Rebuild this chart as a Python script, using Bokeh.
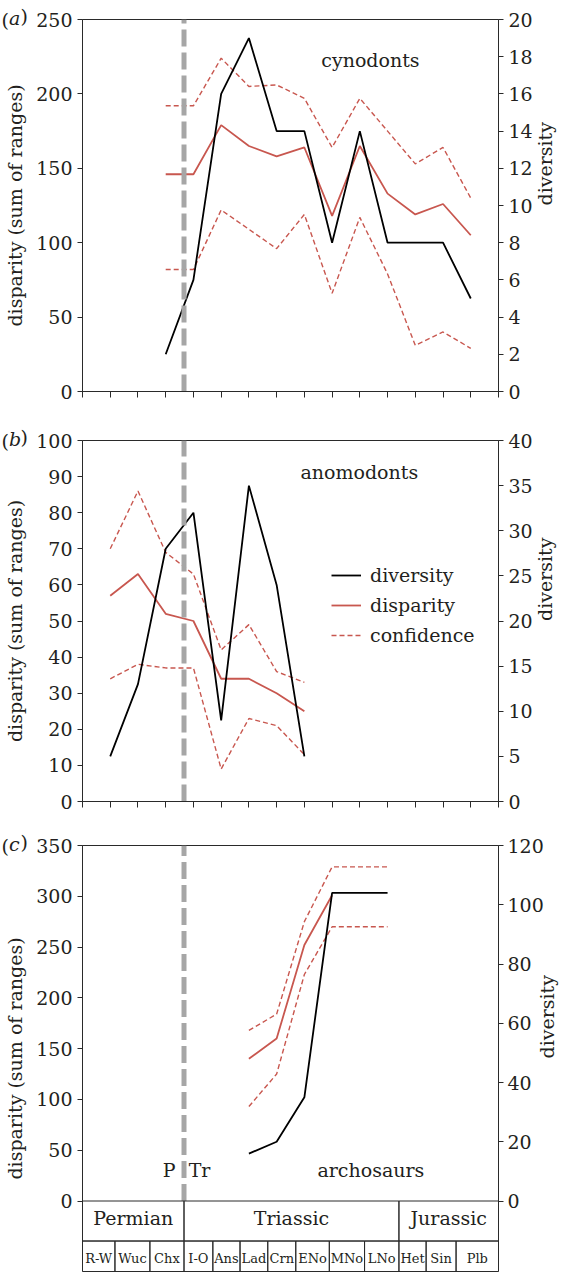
import math
from bokeh.plotting import figure
from bokeh.models import Range1d, LinearAxis, FixedTicker, Label, Legend, LegendItem, Title
from bokeh.layouts import column
from bokeh.embed import file_html
from bokeh.resources import INLINE
from bokeh.core.properties import value

# ---------------- data ----------------
# (a) cynodonts
x_a = [3, 4, 5, 6, 7, 8, 9, 10, 11, 12, 13, 14]
div_a = [2, 6, 16, 19, 14, 14, 8, 14, 8, 8, 8, 5]
disp_a = [146, 146, 179, 165, 158, 164, 118, 165, 133, 119, 126, 105]
upper_a = [192, 192, 224, 205, 206, 197, 164, 197, 175, 153, 164, 130]
lower_a = [82, 82, 122, 109, 96, 119, 66, 117, 79, 31, 40, 29]

# (b) anomodonts
x_b = [1, 2, 3, 4, 5, 6, 7, 8]
div_b = [5, 13, 28, 32, 9, 35, 24, 5]
disp_b = [57, 63, 52, 50, 34, 34, 30, 25]
upper_b = [70, 86, 69, 63, 42, 49, 36, 33]
lower_b = [34, 38, 37, 37, 9, 23, 21, 13]

# (c) archosaurs
x_c = [6, 7, 8, 9, 10, 11]
div_c = [16, 20, 35, 104, 104, 104]
x_c_disp = [6, 7, 8, 9]
disp_c = [140, 160, 252, 301]
upper_c = [168, 184, 275, 329, 329, 329]
lower_c = [93, 125, 223, 270, 270, 270]

# axes
ticks_a_left = [0, 50, 100, 150, 200, 250]
ticks_a_right = [0, 2, 4, 6, 8, 10, 12, 14, 16, 18, 20]
ticks_b_left = [0, 10, 20, 30, 40, 50, 60, 70, 80, 90, 100]
ticks_b_right = [0, 5, 10, 15, 20, 25, 30, 35, 40]
ticks_c_left = [0, 50, 100, 150, 200, 250, 300, 350]
ticks_c_right = [0, 20, 40, 60, 80, 100, 120]
x_ticks = list(range(16))

# time scale
periods = ["Permian", "Triassic", "Jurassic"]
period_edges = [0, 3.66, 11.41, 15]
stages = ["R-W", "Wuc", "Chx", "I-O", "Ans", "Lad", "Crn", "ENo", "MNo", "LNo", "Het", "Sin", "Plb"]
stage_edges = [0, 1.17, 2.43, 3.66, 4.70, 5.68, 6.68, 7.69, 8.90, 10.17, 11.41, 12.39, 13.47, 15]
pt_boundary = 3.66

# ---------------- style ----------------
FONT = "DejaVu Serif"
FS = "19px"
RED = "#c8574f"
GRAY = "#a6a6a6"
INK = "#2a2a2a"
TXT = "#231f20"
LEFT_B = 82
FRAME_W = 416


def style_axis(ax, ticks, label=None, standoff=5, lstandoff=4):
    ax.ticker = FixedTicker(ticks=ticks)
    ax.major_tick_in = 0
    ax.major_tick_out = 5
    ax.minor_tick_in = 0
    ax.minor_tick_out = 0
    ax.axis_line_color = INK
    ax.major_tick_line_color = INK
    ax.major_label_text_font = FONT
    ax.major_label_text_font_size = FS
    ax.major_label_text_color = TXT
    ax.major_label_standoff = standoff
    if label:
        ax.axis_label = label
        ax.axis_label_text_font = FONT
        ax.axis_label_text_font_size = FS
        ax.axis_label_text_font_style = "normal"
        ax.axis_label_text_color = TXT
        ax.axis_label_standoff = lstandoff


def make_panel(frame_h, top_b, bot_b, y0, y1, r0, r1, lt, rt, show_x, r_standoff, r_lstandoff):
    p = figure(frame_width=FRAME_W, frame_height=frame_h,
               min_border_left=LEFT_B, min_border_right=68,
               min_border_top=top_b, min_border_bottom=bot_b,
               x_range=Range1d(0, 15), y_range=Range1d(y0, y1),
               x_axis_location="below" if show_x else None,
               output_backend="svg", toolbar_location=None)
    p.grid.visible = False
    p.outline_line_color = INK
    p.outline_line_width = 1
    p.background_fill_color = "white"
    p.border_fill_color = "white"
    style_axis(p.yaxis[0], lt, "disparity (sum of ranges)", lstandoff=7)
    p.yaxis[0].bounds = (0, y1)
    p.extra_y_ranges = {"div": Range1d(r0, r1)}
    rax = LinearAxis(y_range_name="div")
    style_axis(rax, rt, "diversity", standoff=r_standoff, lstandoff=r_lstandoff)
    rax.bounds = (0, r1)
    rax.axis_label_orientation = math.pi / 2
    p.add_layout(rax, "right")
    if show_x:
        xa = p.xaxis[0]
        xa.ticker = FixedTicker(ticks=[], minor_ticks=x_ticks)
        xa.major_tick_in = 0
        xa.major_tick_out = 0
        xa.minor_tick_in = 0
        xa.minor_tick_out = 6
        xa.axis_line_color = INK
        xa.minor_tick_line_color = INK
    return p


def add_lines(p, xs, div, xd, disp, up, lo, top):
    r_up = p.line(xs, up, line_color=RED, line_width=1.4, line_dash="5 3")
    p.line(xs, lo, line_color=RED, line_width=1.4, line_dash="5 3")
    r_disp = p.line(xd, disp, line_color=RED, line_width=1.8)
    r_div = p.line(xs, div, line_color="black", line_width=1.8, y_range_name="div")
    p.line([pt_boundary, pt_boundary], [0, top], line_color=GRAY, line_width=5, line_dash="17 6")
    return r_div, r_disp, r_up


def tag(p, letter):
    # panel letter "(a)" drawn in the top border, left of the top tick label
    for txt, off, style in [("(", -81, "normal"), (letter, -73.5, "italic"), (")", -62, "normal")]:
        p.add_layout(Title(text=txt, align="left", offset=off, standoff=-22,
                           vertical_align="bottom", text_font=FONT, text_font_size=FS,
                           text_font_style=style, text_color=TXT), "above")


def name(p, txt, x, y, align="left"):
    p.add_layout(Label(x=x, y=y, text=txt, text_font=FONT, text_font_size=FS,
                       text_baseline="middle", text_align=align, text_color=TXT))


# ---------------- panel a ----------------
pa = make_panel(372, 19, 29, 0, 250, 0, 20, ticks_a_left, ticks_a_right, True, 5, 9)
add_lines(pa, x_a, div_a, x_a, disp_a, upper_a, lower_a, 250)
tag(pa, "a")
name(pa, "cynodonts", 8.61, 223)

# ---------------- panel b ----------------
pb = make_panel(361, 20, 25, 0, 100, 0, 40, ticks_b_left, ticks_b_right, True, 5, 9)
rb_div, rb_disp, rb_up = add_lines(pb, x_b, div_b, x_b, disp_b, upper_b, lower_b, 100)
tag(pb, "b")
name(pb, "anomodonts", 7.86, 91.4)
leg = Legend(items=[LegendItem(label="diversity", renderers=[rb_div]),
                    LegendItem(label="disparity", renderers=[rb_disp]),
                    LegendItem(label="confidence", renderers=[rb_up])],
             location=(249, 155), padding=0, margin=0, spacing=8,
             glyph_width=30, glyph_height=20, label_height=20, label_standoff=9,
             label_text_font=FONT, label_text_font_size=FS, label_text_color=TXT,
             border_line_alpha=0, background_fill_alpha=0)
pb.add_layout(leg)

# ---------------- panel c ----------------
ROW1 = 39.4
ROW2 = 69.4
pc = make_panel(426, 19, 1, -ROW2, 350, -ROW2 * 120 / 350, 120, ticks_c_left, ticks_c_right, False, 4, 0)
add_lines(pc, x_c, div_c, x_c_disp, disp_c, upper_c, lower_c, 350)
tag(pc, "c")
name(pc, "P", 3.12, 31, "center")
name(pc, "Tr", 4.22, 31, "center")
name(pc, "archosaurs", 8.47, 30.5)

pc.quad(left=period_edges[:-1], right=period_edges[1:], top=0, bottom=-ROW1,
        fill_color=None, line_color=INK, line_width=1)
pc.quad(left=stage_edges[:-1], right=stage_edges[1:], top=-ROW1, bottom=-ROW2,
        fill_color=None, line_color=INK, line_width=1)
pc.text(x=[(a + b) / 2 for a, b in zip(period_edges[:-1], period_edges[1:])],
        y=[-17.2] * len(periods), text=periods, text_font=value(FONT), text_font_size=value(FS),
        text_align="center", text_baseline="middle", text_color=TXT)
pc.text(x=[(a + b) / 2 for a, b in zip(stage_edges[:-1], stage_edges[1:])],
        y=[-56.5] * len(stages), text=stages, text_font=value(FONT),
        text_font_size=value("13px"), text_align="center", text_baseline="middle", text_color=TXT)

layout = column(pa, pb, pc, spacing=0)
open("out.html", "w").write(file_html(layout, INLINE))
